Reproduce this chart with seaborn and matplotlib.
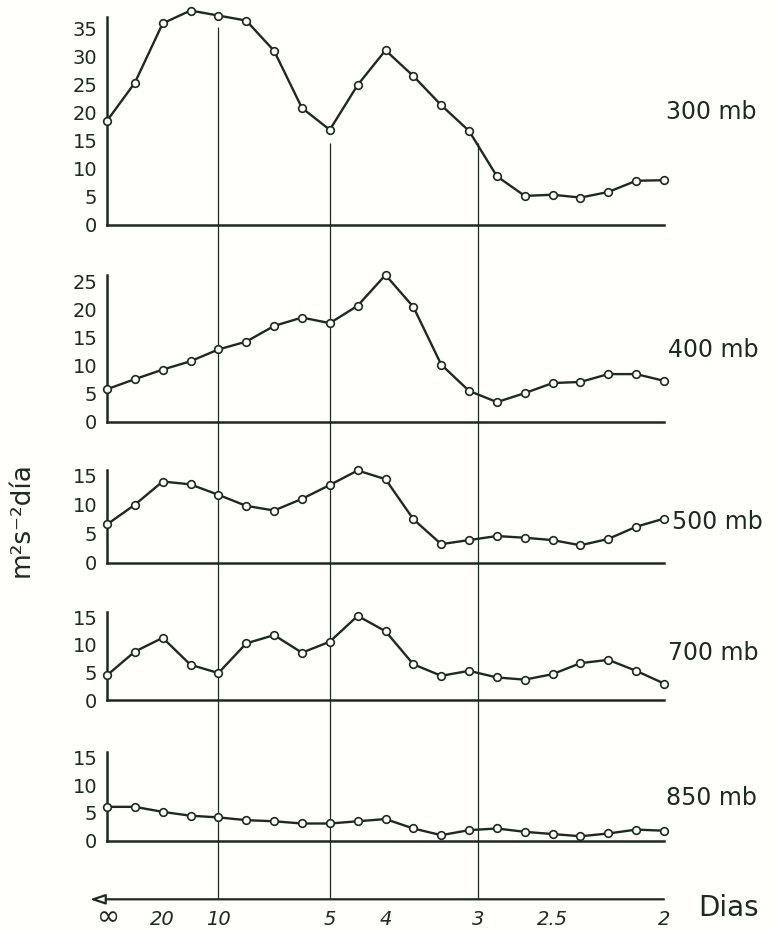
import numpy as np
import pandas as pd
import matplotlib
matplotlib.use("Agg")
import matplotlib.pyplot as plt
import seaborn as sns

# ---- data ----
freq_index = list(range(21))  # points at frequency k/40 cycles per day
period_tick_pos = [0, 2, 4, 8, 10, 40 / 3, 16, 20]
period_tick_labels = [r"$\infty$", "20", "10", "5", "4", "3", "2.5", "2"]

v300 = [18.6, 25.4, 36.0, 38.3, 37.4, 36.5, 31.1, 20.9, 17.0, 25.0, 31.2,
        26.6, 21.4, 16.8, 8.7, 5.2, 5.4, 4.9, 5.9, 7.9, 8.0]
v400 = [5.8, 7.6, 9.3, 10.8, 12.9, 14.3, 17.1, 18.6, 17.6, 20.7, 26.2,
        20.5, 10.2, 5.5, 3.5, 5.1, 6.9, 7.1, 8.5, 8.5, 7.3]
v500 = [6.6, 10.0, 14.0, 13.5, 11.7, 9.8, 9.0, 11.0, 13.4, 15.9, 14.4,
        7.5, 3.2, 3.9, 4.6, 4.3, 3.9, 3.0, 4.1, 6.2, 7.6]
v700 = [4.5, 8.8, 11.3, 6.4, 4.9, 10.3, 11.8, 8.6, 10.6, 15.3, 12.5,
        6.5, 4.4, 5.3, 4.1, 3.7, 4.7, 6.7, 7.3, 5.3, 3.0]
v850 = [6.1, 6.1, 5.2, 4.5, 4.2, 3.7, 3.5, 3.1, 3.1, 3.5, 3.9,
        2.2, 1.0, 1.9, 2.2, 1.6, 1.2, 0.8, 1.3, 2.0, 1.8]

levels = ["300 mb", "400 mb", "500 mb", "700 mb", "850 mb"]
series = [v300, v400, v500, v700, v850]
yticks_max = [35, 25, 15, 15, 15]

# ---- layout (pixels from top of a 780x931 figure) ----
W, H = 780, 931
x_left, x_right = 107, 664
zero_px = [225, 421.7, 562.7, 700, 840.7]
top_px = [17, 275, 470, 612, 752]
px_per_unit = [5.6, 5.6, 5.8, 5.5, 5.55]
label_px = [112, 350, 522, 653, 798]
label_x = [666, 668, 672, 668, 666]
axis_px = 899.3

INK = "#1d2a21"
BG = "#fffffb"

sns.set_style("white")
plt.rcParams["font.family"] = ["DejaVu Sans"]
plt.rcParams["mathtext.fontset"] = "dejavusans"

fig = plt.figure(figsize=(W / 100, H / 100), dpi=100, facecolor=BG)

# overlay axes for the vertical reference lines and period axis
axo = fig.add_axes([x_left / W, (H - axis_px) / H, (x_right - x_left) / W, axis_px / H])
axo.set_xlim(0, 20)
axo.set_ylim(axis_px, 0)
axo.patch.set_alpha(0)
for s in axo.spines.values():
    s.set_visible(False)
axo.set_yticks([])
axo.vlines([4, 8, 40 / 3], [27, 143, 143], [axis_px, axis_px, axis_px],
           color=INK, lw=0.9, zorder=0)
axo.annotate("", xy=(-0.62, axis_px), xytext=(20, axis_px), xycoords="data",
             arrowprops=dict(arrowstyle="-|>,head_length=0.9,head_width=0.3",
                             fc="white", ec=INK, lw=1.6, shrinkA=0, shrinkB=0),
             annotation_clip=False)
axo.set_xticks(period_tick_pos[1:])
axo.set_xticklabels(period_tick_labels[1:], fontstyle="italic",
                    fontsize=14, color=INK)
fig.text(x_left / W, 1 - 915 / H, period_tick_labels[0], fontsize=20,
         color=INK, ha="center", va="center")
axo.tick_params(axis="x", direction="inout", length=12, width=1.2, color=INK, pad=2)
fig.text(698 / W, 1 - 908 / H, "Dias", fontsize=20, color=INK, va="center", ha="left")

for i, (lev, vals) in enumerate(zip(levels, series)):
    h = zero_px[i] - top_px[i]
    ax = fig.add_axes([x_left / W, (H - zero_px[i]) / H, (x_right - x_left) / W, h / H])
    ax.patch.set_alpha(0)
    df = pd.DataFrame({"f": freq_index, "v": vals})
    sns.lineplot(data=df, x="f", y="v", ax=ax, color=INK, lw=1.7, marker="o",
                 markersize=5.5, markerfacecolor="white", markeredgecolor=INK,
                 markeredgewidth=1.2, clip_on=False, zorder=5)
    ax.set_xlim(0, 20)
    ax.set_ylim(0, h / px_per_unit[i])
    ax.set_xticks([])
    ax.set_yticks(np.arange(0, yticks_max[i] + 1, 5))
    ax.tick_params(axis="y", direction="inout", length=10, width=1.2, color=INK,
                   labelsize=14, labelcolor=INK, pad=2)
    ax.set_xlabel("")
    ax.set_ylabel("")
    for side in ["top", "right"]:
        ax.spines[side].set_visible(False)
    for side in ["left", "bottom"]:
        ax.spines[side].set_color(INK)
        ax.spines[side].set_linewidth(1.8)
    fig.text(label_x[i] / W, 1 - label_px[i] / H, lev, fontsize=17, color=INK,
             va="center", ha="left")

fig.text(22 / W, 1 - 520 / H, "m²s⁻²día", rotation=90, fontsize=19, color=INK,
         va="center", ha="center")

fig.savefig("out.png", dpi=100, facecolor=BG)
